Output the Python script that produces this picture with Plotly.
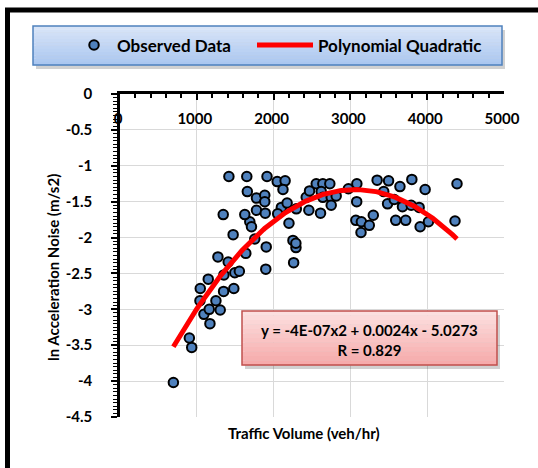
import numpy as np
import plotly.graph_objects as go

# ---------------- data ----------------
traffic_volume = [695, 903, 934, 1041, 1093, 1162, 1171, 1249, 1305, 1045,
                  1149, 1349, 1482, 1275, 1409, 1353, 1495, 1554, 1638, 1898,
                  1904, 1755, 1473, 1690, 1712, 1344, 1625, 1777, 1891, 1658,
                  1777, 1885, 1885, 1418, 1651, 1914, 2047, 2150, 2122, 2101,
                  2176, 2053, 2200, 2296, 2252, 2291, 2261, 2290, 2425, 2468,
                  2555, 2641, 2732, 2620, 2641, 2750, 2815, 2459, 2611, 2750,
                  2974, 3084, 3082, 3071, 3143, 3246, 3298, 3138, 3348, 3497,
                  3434, 3645, 3800, 3973, 3484, 3571, 3678, 3791, 3895, 3590,
                  3720, 3908, 4016, 4388, 4362]
ln_accel_noise = [-4.02, -3.40, -3.53, -2.88, -3.07, -3.00, -3.20, -2.88, -3.01, -2.71,
                  -2.58, -2.75, -2.71, -2.27, -2.34, -2.52, -2.49, -2.47, -2.22, -2.44,
                  -2.13, -2.02, -1.96, -1.78, -1.85, -1.68, -1.68, -1.62, -1.66, -1.36,
                  -1.45, -1.41, -1.50, -1.15, -1.15, -1.15, -1.22, -1.21, -1.33, -1.58,
                  -1.52, -1.67, -1.80, -1.60, -2.04, -2.14, -2.35, -2.08, -1.44, -1.35,
                  -1.25, -1.25, -1.25, -1.36, -1.44, -1.44, -1.42, -1.62, -1.66, -1.55,
                  -1.32, -1.25, -1.50, -1.76, -1.78, -1.83, -1.69, -1.93, -1.20, -1.21,
                  -1.36, -1.29, -1.19, -1.33, -1.53, -1.47, -1.57, -1.55, -1.58, -1.76,
                  -1.76, -1.85, -1.78, -1.25, -1.77]

# quadratic trend-line coefficients (a, b, c), as drawn in the picture
fit_coefficients = [-3.91e-7, 0.002394, -4.996]
fit_label = "y = -4E-07x2 + 0.0024x - 5.0273<br>R = 0.829"

x_tick_vals = [0, 1000, 2000, 3000, 4000, 5000]
x_tick_text = ["0", "1000", "2000", "3000", "4000", "5000"]
y_tick_vals = [0, -0.5, -1, -1.5, -2, -2.5, -3, -3.5, -4, -4.5]
y_tick_text = ["0", "-0.5", "-1", "-1.5", "-2", "-2.5", "-3", "-3.5", "-4", "-4.5"]

# ---------------- layout helpers ----------------
W, H = 538, 468
L, R, T, B = 120, 504, 94, 417


def px_x(p):
    return (p - L) / (R - L)


def px_y(p):
    return (B - p) / (B - T)


FONT = "Lato"

fit_x = np.linspace(min(traffic_volume), max(traffic_volume), 200)
fit_y = np.polyval(fit_coefficients, fit_x)

fig = go.Figure()
fig.add_trace(go.Scatter(
    x=traffic_volume, y=ln_accel_noise, mode="markers", name="Observed Data",
    legend="legend",
    marker=dict(size=9.5, color="#4f81bd", line=dict(color="black", width=2)),
))
fig.add_trace(go.Scatter(
    x=fit_x, y=fit_y, mode="lines", name="Polynomial Quadratic", xaxis="x2",
    legend="legend2",
    line=dict(color="#ff0000", width=5),
))

shapes = []
# outer frame (only its top/left edges lie inside the window)
shapes.append(dict(type="rect", xref="paper", yref="paper",
                   x0=px_x(7.5), x1=px_x(800), y0=px_y(800), y1=px_y(10),
                   line=dict(color="black", width=5), fillcolor="rgba(0,0,0,0)", layer="above"))


def gradient_box(x0, x1, y0, y1, c_top, c_bot, border, n=12):
    out = []
    out.append(dict(type="rect", xref="paper", yref="paper",
                    x0=px_x(x0 + 3), x1=px_x(x1 + 3), y0=px_y(y1 + 4), y1=px_y(y0 + 4),
                    line=dict(width=0), fillcolor="rgba(0,0,0,0.18)", layer="above"))
    ct = np.array([int(c_top[i:i + 2], 16) for i in (1, 3, 5)])
    cb = np.array([int(c_bot[i:i + 2], 16) for i in (1, 3, 5)])
    h = (y1 - y0) / n
    for i in range(n):
        c = ct + (cb - ct) * (i + 0.5) / n
        out.append(dict(type="rect", xref="paper", yref="paper",
                        x0=px_x(x0), x1=px_x(x1), y0=px_y(y0 + (i + 1) * h + 0.3), y1=px_y(y0 + i * h),
                        line=dict(width=0), fillcolor="rgb(%d,%d,%d)" % tuple(c.astype(int)),
                        layer="above"))
    out.append(dict(type="rect", xref="paper", yref="paper",
                    x0=px_x(x0), x1=px_x(x1), y0=px_y(y1), y1=px_y(y0),
                    line=dict(color=border, width=1.5), fillcolor="rgba(0,0,0,0)", layer="above"))
    return out


shapes += gradient_box(33, 502, 26, 65, "#dbe6f8", "#a9c6f0", "#4f81bd")
shapes += gradient_box(242, 497, 311, 365, "#fde2e2", "#f6a9a9", "#c0504d")

annotations = [
    dict(x=px_x(369.5), y=px_y(340), xref="paper", yref="paper", text=fit_label,
         showarrow=False, align="center", xanchor="center", yanchor="middle",
         font=dict(family=FONT, size=15, color="black", weight="bold")),
    dict(x=px_x(303.5), y=px_y(433), xref="paper", yref="paper", text="Traffic Volume (veh/hr)",
         showarrow=False, xanchor="center", yanchor="middle",
         font=dict(family=FONT, size=15, color="black", weight="bold")),
    dict(x=px_x(53), y=px_y(268), xref="paper", yref="paper", text="ln Acceleration Noise (m/s2)",
         textangle=-90, showarrow=False, xanchor="center", yanchor="middle",
         font=dict(family=FONT, size=15, color="black", weight="bold")),
]

tickfont = dict(family=FONT, size=15, color="black", weight="bold")
legend_font = dict(family=FONT, size=17, color="black", weight="bold")

fig.update_layout(
    width=W, height=H,
    margin=dict(l=L, r=W - R, t=T, b=H - B, pad=0, autoexpand=False),
    paper_bgcolor="white", plot_bgcolor="white",
    font=dict(family=FONT, color="black"),
    showlegend=True,
    legend=dict(orientation="h", x=px_x(71), y=px_y(45.5), xanchor="left", yanchor="middle",
                bgcolor="rgba(0,0,0,0)", borderwidth=0, itemwidth=36, font=legend_font),
    legend2=dict(orientation="h", x=px_x(252), y=px_y(45.5), xanchor="left", yanchor="middle",
                 bgcolor="rgba(0,0,0,0)", borderwidth=0, itemwidth=56, font=legend_font),
    xaxis=dict(range=[0, 5000], side="top", tickmode="array", tickvals=x_tick_vals,
               showticklabels=False, ticks="inside", ticklen=6, tickwidth=2, tickcolor="black",
               minor=dict(dtick=200, tick0=0, ticks="inside", ticklen=4, tickwidth=1.5,
                          tickcolor="black", showgrid=False),
               showgrid=True, gridcolor="#d9d9d9", gridwidth=1.2,
               showline=True, linecolor="black", linewidth=2.5, zeroline=False),
    xaxis2=dict(range=[0, 5000], overlaying="x", anchor="free", position=px_y(108),
                side="bottom", tickmode="array", tickvals=x_tick_vals, ticktext=x_tick_text,
                ticks="", showgrid=False, showline=False, zeroline=False, ticklabelshift=-2,
                tickfont=tickfont),
    yaxis=dict(range=[-4.5, 0], tickmode="array", tickvals=y_tick_vals, ticktext=y_tick_text,
               ticks="outside", ticklen=6, tickwidth=2, tickcolor="black", ticklabelstandoff=16,
               minor=dict(dtick=0.05, tick0=0, ticks="outside", ticklen=4, tickwidth=1,
                          tickcolor="black", showgrid=False),
               showgrid=True, gridcolor="#d9d9d9", gridwidth=1.2,
               showline=True, linecolor="black", linewidth=2.5, zeroline=False,
               tickfont=tickfont),
    shapes=shapes,
    annotations=annotations,
)

fig.write_html("out.html", config={"displayModeBar": False},
               post_script="document.body.style.margin='0px';")
